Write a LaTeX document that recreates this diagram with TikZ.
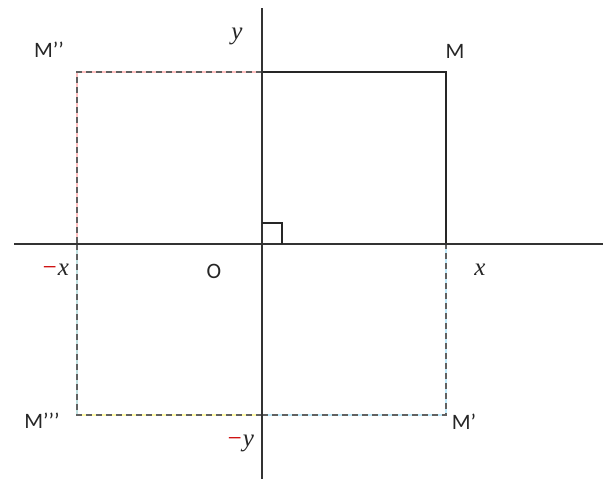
\documentclass[tikz,border=0pt]{standalone}
\usepackage{fontspec}
\setmainfont{Carlito}
\newfontfamily\varfont{Liberation Serif}
\begin{document}
\begin{tikzpicture}[x=1pt,y=-1pt,
  axis/.style={draw=black!80,line width=1.4pt},
  solidside/.style={draw=black!85,line width=1.2pt},
  tint/.style={line width=1.3pt},
  dashside/.style={draw=black!62,line width=1.4pt,dash pattern=on 6pt off 4pt},
  lbl/.style={font=\fontsize{22}{26}\selectfont,text=black!85,inner sep=0pt},
  var/.style={font=\varfont\itshape\fontsize{25}{28}\selectfont,text=black!85,inner sep=0pt}]
\useasboundingbox (0,0) rectangle (603,479);
\fill[white] (0,0) rectangle (603,479);
% points
\coordinate (O) at (262,244);
\coordinate (M) at (446,72);
\coordinate (M2) at (77,72);
\coordinate (M3) at (77,415);
\coordinate (M1) at (446,415);
\coordinate (Y) at (262,72);
\coordinate (Ym) at (262,415);
\coordinate (X) at (446,244);
\coordinate (Xm) at (77,244);
\coordinate (xl) at (14,244);
\coordinate (xr) at (603,244);
\coordinate (yt) at (262,8);
\coordinate (yb) at (262,479);
% colored tints under dashes
\draw[tint,red!25] (Y) -- (M2) -- (Xm);
\draw[tint,teal!25] (Xm) -- (M3);
\draw[tint,yellow!35] (M3) -- (Ym);
\draw[tint,cyan!25] (Ym) -- (M1) -- (X);
% dashed sides
\draw[dashside] (Y) -- (M2) -- (Xm);
\draw[dashside] (Xm) -- (M3) -- (Ym);
\draw[dashside] (Ym) -- (M1) -- (X);
% solid sides
\draw[solidside] (Y) -- (M) -- (X);
% axes
\draw[axis] (xl) -- (xr);
\draw[axis] (yt) -- (yb);
% right angle
\draw[solidside,line width=1.1pt] (262,223) -- (282,223) -- (282,244);
% labels
\node[lbl] (lM) at (455,51) {M};
\node[lbl] (lM2) at (49,50) {M’’};
\node[lbl] (lM3) at (42,421) {M’’’};
\node[lbl] (lM1) at (464,422) {M’};
\node[lbl] (lO) at (214,271) {O};
\node[var] (ly) at (237,36) {y};
\node[var] (lx) at (480,270) {x};
\node[var] (lxm) at (55,270) {\textcolor{red!80!black}{−}x};
\node[var] (lym) at (240,443) {\textcolor{red!80!black}{−}y};
\end{tikzpicture}
\end{document}
